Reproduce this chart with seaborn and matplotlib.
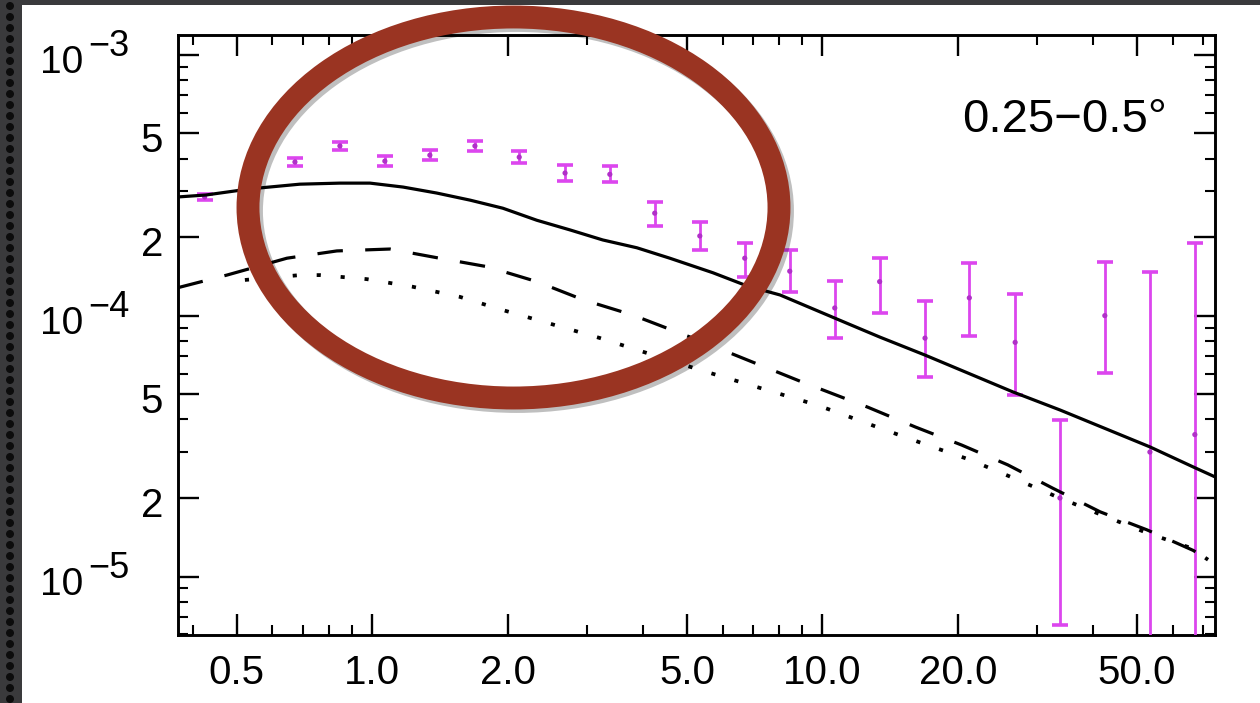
import numpy as np
import pandas as pd
import matplotlib
matplotlib.use("Agg")
import matplotlib.pyplot as plt
import matplotlib.transforms as mtransforms
import matplotlib.patheffects as pe
from matplotlib.patches import Ellipse, Rectangle
from matplotlib.ticker import FixedLocator, NullFormatter, LogLocator
import seaborn as sns

# ---------------- data ----------------
obs_x = [0.424, 0.673, 0.847, 1.066, 1.342, 1.69, 2.12, 2.68, 3.37, 4.24, 5.34,
         6.72, 8.46, 10.65, 13.4, 16.9, 21.2, 26.8, 33.7, 42.4, 53.4, 67.2]
obs_y = [2.85e-4, 3.88e-4, 4.47e-4, 3.91e-4, 4.12e-4, 4.47e-4, 4.05e-4, 3.52e-4,
         3.48e-4, 2.47e-4, 2.02e-4, 1.66e-4, 1.48e-4, 1.07e-4, 1.35e-4, 8.2e-5,
         1.17e-4, 7.9e-5, 2.0e-5, 1.0e-4, 3.0e-5, 3.5e-5]
obs_hi = [2.93e-4, 4.02e-4, 4.63e-4, 4.09e-4, 4.31e-4, 4.67e-4, 4.27e-4, 3.78e-4,
          3.73e-4, 2.72e-4, 2.28e-4, 1.90e-4, 1.78e-4, 1.36e-4, 1.66e-4, 1.14e-4,
          1.59e-4, 1.21e-4, 3.98e-5, 1.61e-4, 1.47e-4, 1.90e-4]
obs_lo = [2.78e-4, 3.74e-4, 4.31e-4, 3.74e-4, 3.94e-4, 4.28e-4, 3.84e-4, 3.28e-4,
          3.24e-4, 2.20e-4, 1.78e-4, 1.41e-4, 1.23e-4, 8.2e-5, 1.02e-4, 5.82e-5,
          8.35e-5, 4.96e-5, 6.5e-6, 6.03e-5, 1e-6, 1e-6]

total_x = [0.370, 0.427, 0.534, 0.690, 0.847, 0.988, 1.17, 1.39, 1.65, 1.95, 2.32,
           2.75, 3.25, 3.87, 4.58, 5.71, 6.80, 8.05, 11.3, 13.4, 16.9, 26.5, 33.7,
           53.4, 67.3, 74.5]
total_y = [2.85e-4, 2.90e-4, 3.06e-4, 3.19e-4, 3.22e-4, 3.22e-4, 3.11e-4, 2.95e-4,
           2.77e-4, 2.58e-4, 2.32e-4, 2.13e-4, 1.95e-4, 1.82e-4, 1.66e-4, 1.46e-4,
           1.30e-4, 1.20e-4, 9.37e-5, 8.28e-5, 7.06e-5, 5.10e-5, 4.35e-5, 3.14e-5,
           2.61e-5, 2.41e-5]

dash_x = [0.370, 0.475, 0.646, 0.834, 1.094, 1.41, 1.80, 2.32, 2.94, 3.79, 5.35,
          6.90, 8.91, 12.6, 16.1, 20.4, 25.8, 32.5, 41.4, 52.6, 66.6, 71.9]
dash_y = [1.28e-4, 1.43e-4, 1.66e-4, 1.77e-4, 1.80e-4, 1.66e-4, 1.54e-4, 1.35e-4,
          1.15e-4, 1.005e-4, 8.0e-5, 6.70e-5, 5.61e-5, 4.46e-5, 3.74e-5, 3.19e-5,
          2.68e-5, 2.18e-5, 1.77e-5, 1.51e-5, 1.26e-5, 1.16e-5]

dot_x = [0.521, 0.690, 0.765, 0.972, 1.23, 1.565, 1.95, 2.205, 3.20, 5.35, 9.73,
         10.9, 13.4, 17.1, 21.3, 26.5, 33.2, 41.8, 52.6, 65.6, 71.9]
dot_y = [1.37e-4, 1.43e-4, 1.43e-4, 1.38e-4, 1.29e-4, 1.18e-4, 1.05e-4, 9.88e-5,
         8.21e-5, 6.19e-5, 4.54e-5, 4.23e-5, 3.71e-5, 3.19e-5, 2.80e-5, 2.39e-5,
         2.02e-5, 1.72e-5, 1.47e-5, 1.29e-5, 1.16e-5]

x_ticks = [0.5, 1.0, 2.0, 5.0, 10.0, 20.0, 50.0]
x_tick_labels = ["0.5", "1.0", "2.0", "5.0", "10.0", "20.0", "50.0"]
y_ticks = [1e-3, 5e-4, 2e-4, 1e-4, 5e-5, 2e-5, 1e-5]
y_tick_base = ["10", "5", "2", "10", "5", "2", "10"]
y_tick_exp = ["\u22123", "", "", "\u22124", "", "", "\u22125"]
panel_label = "0.25\u22120.5\u00b0"

# ---------------- style ----------------
sns.set_theme(style="ticks")
plt.rcParams["font.family"] = ["Liberation Sans", "DejaVu Sans"]

W, H = 1260, 703
fig = plt.figure(figsize=(W / 100, H / 100), dpi=100, facecolor="white")
ax = fig.add_axes([178 / W, 1 - 635 / H, (1215 - 178) / W, 600 / H])
ax.set_facecolor("white")
ax.set_xscale("log")
ax.set_yscale("log")

magenta = "#DC46EE"

obs = pd.DataFrame({"x": obs_x, "y": obs_y, "lo": obs_lo, "hi": obs_hi})
ax.errorbar(obs["x"], obs["y"],
            yerr=[obs["y"] - obs["lo"], obs["hi"] - obs["y"]],
            fmt="none", ecolor=magenta, elinewidth=2.0, capsize=5.5,
            capthick=2.6, zorder=3)
sns.scatterplot(data=obs, x="x", y="y", ax=ax, color="#B030C8", s=14,
                edgecolor="none", zorder=4)

sns.lineplot(x=total_x, y=total_y, ax=ax, color="black", lw=2.3,
             errorbar=None, sort=False, zorder=5)
sns.lineplot(x=dash_x, y=dash_y, ax=ax, color="black", lw=2.3,
             linestyle=(0, (8, 7)), errorbar=None, sort=False, zorder=5)
sns.lineplot(x=dot_x, y=dot_y, ax=ax, color="black", lw=2.7,
             linestyle=(0, (1.1, 5.3)), errorbar=None, sort=False, zorder=5)

ax.set_xlim(0.37, 74.5)
ax.set_ylim(5.97e-6, 1.19e-3)
ax.set_xlabel("")
ax.set_ylabel("")
ax.grid(False)

ax.xaxis.set_major_locator(FixedLocator(x_ticks))
ax.set_xticklabels(x_tick_labels)
ax.xaxis.set_minor_locator(LogLocator(base=10, subs=np.arange(2, 10), numticks=20))
ax.xaxis.set_minor_formatter(NullFormatter())
ax.yaxis.set_major_locator(FixedLocator(y_ticks))
ax.set_yticklabels([""] * len(y_ticks))
ax.yaxis.set_minor_locator(LogLocator(base=10, subs=np.arange(2, 10), numticks=20))
ax.yaxis.set_minor_formatter(NullFormatter())

ax.tick_params(which="major", direction="in", length=15, width=1.7,
               top=True, right=True, color="black", labelcolor="black",
               labelsize=29, pad=14)
ax.tick_params(which="minor", direction="in", length=7, width=1.5,
               top=True, right=True, color="black")
for sp in ax.spines.values():
    sp.set_visible(True)
    sp.set_linewidth(2.1)
    sp.set_color("black")

# y tick labels in the IDL style (10^-n, then bare mantissas)
blend = mtransforms.blended_transform_factory(ax.transAxes, ax.transData)
for val, base, ex in zip(y_ticks, y_tick_base, y_tick_exp):
    if ex:
        ax.annotate(base, xy=(0, val), xycoords=blend, xytext=(-68.4, -13),
                    textcoords="offset points", ha="right", va="baseline",
                    fontsize=28, color="black", annotation_clip=False)
        ax.annotate(ex, xy=(0, val), xycoords=blend, xytext=(-64.8, -0.7),
                    textcoords="offset points", ha="left", va="baseline",
                    fontsize=26, color="black", annotation_clip=False)
    else:
        ax.annotate(base, xy=(0, val), xycoords=blend, xytext=(-10.8, -13.5),
                    textcoords="offset points", ha="right", va="baseline",
                    fontsize=29, color="black", annotation_clip=False)

fig.text(1167 / W, 1 - 132 / H, panel_label, ha="right", va="baseline",
         fontsize=34, color="black")

# slide background strips (dark, with a row of black dots)
strip_col = "#3a3a3c"
fig.add_artist(Rectangle((0, 0), 22 / W, 1, transform=fig.transFigure,
                         facecolor=strip_col, edgecolor="none", zorder=0))
fig.add_artist(Rectangle((0, 1 - 5 / H), 1, 5 / H, transform=fig.transFigure,
                         facecolor=strip_col, edgecolor="none", zorder=0))
for py in np.arange(6, H, 11):
    fig.add_artist(Ellipse((10 / W, 1 - py / H), 8 / W, 8 / H,
                           transform=fig.transFigure, facecolor="#0c0c0c",
                           edgecolor="none", zorder=1))

# red annotation ellipse
ell = Ellipse((513.5 / W, 1 - 207.5 / H), 531 / W, 381 / H,
              transform=fig.transFigure, fill=False, edgecolor="#9A3422",
              lw=16.5, zorder=20,
              path_effects=[pe.SimpleLineShadow(offset=(2.5, -2.5),
                                                shadow_color="black", alpha=0.25),
                            pe.Normal()])
fig.add_artist(ell)

fig.savefig("out.png", dpi=100, facecolor="white")
